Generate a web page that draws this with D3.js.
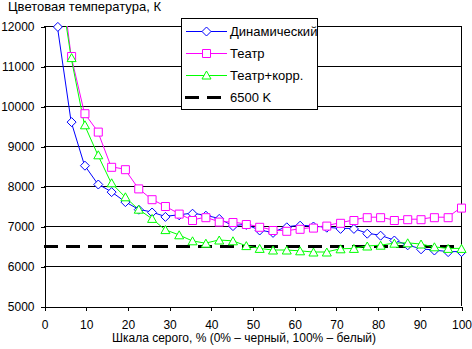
<!DOCTYPE html>
<html>
<head>
<meta charset="utf-8">
<script src="https://cdn.jsdelivr.net/npm/d3@7"></script>
<style>
  body { margin: 0; background: #fff; }
  svg { display: block; font-family: "Liberation Sans", Arial, sans-serif; }
</style>
</head>
<body>
<svg width="472" height="349"></svg>
<script>
// grey level, % (32 steps, 0..31)
const greyLevels = [3.2, 6.5, 9.7, 12.9, 16.1, 19.4, 22.6, 25.8, 29.0, 32.3, 35.5, 38.7, 41.9, 45.2, 48.4,
    51.6, 54.8, 58.1, 61.3, 64.5, 67.7, 71.0, 74.2, 77.4, 80.6, 83.9, 87.1, 90.3, 93.5, 96.8, 100];

const dynamicTemp = [11990, 9610, 8520, 8050, 7860, 7610, 7420, 7350, 7240, 7280, 7320, 7270, 7190, 7010, 7040,
    6900, 6840, 6980, 7020, 7000, 6970, 6940, 6940, 6820, 6770, 6650, 6530, 6430, 6400, 6360, 6360];

const theatreTemp = [14000, 11250, 9820, 9360, 8480, 8420, 7940, 7670, 7500, 7310, 7150, 7220, 7110, 7100, 7050,
    6980, 6900, 6880, 6930, 6960, 7010, 7080, 7150, 7220, 7220, 7150, 7170, 7170, 7220, 7220, 7460];

const theatreCorrTemp = [13500, 11210, 9530, 8780, 8080, 7730, 7420, 7190, 6910, 6780, 6630, 6570, 6650, 6630, 6510,
    6440, 6400, 6400, 6380, 6350, 6350, 6430, 6440, 6500, 6520, 6570, 6580, 6550, 6480, 6440, 6440];

const reference = [0, 100];
const referenceTemp = 6500;

const xTicks = [0, 10, 20, 30, 40, 50, 60, 70, 80, 90, 100];
const yTicks = [5000, 6000, 7000, 8000, 9000, 10000, 11000, 12000];

const seriesNames = ["Динамический", "Театр", "Театр+корр.", "6500 K"];

const svg = d3.select("svg");
const plotLeft = 44, plotRight = 461, plotTop = 26, plotBottom = 306;

const x = d3.scaleLinear().domain([0, 100]).range([plotLeft, plotRight]);
const y = d3.scaleLinear().domain([5000, 12000]).range([plotBottom, plotTop]);

svg.append("defs").append("clipPath").attr("id", "plot")
    .append("rect").attr("x", plotLeft).attr("y", plotTop)
    .attr("width", plotRight - plotLeft + 1).attr("height", plotBottom - plotTop + 1);

// gridlines
svg.append("g")
    .selectAll("line")
    .data(yTicks.slice(1))
    .join("line")
    .attr("x1", plotLeft).attr("x2", plotRight + 1)
    .attr("y1", d => y(d) + 0.5).attr("y2", d => y(d) + 0.5)
    .attr("stroke", "#000")
    .attr("shape-rendering", "crispEdges");

// right border
svg.append("line")
    .attr("x1", plotRight + 0.5).attr("x2", plotRight + 0.5)
    .attr("y1", plotTop).attr("y2", plotBottom)
    .attr("stroke", "#000")
    .attr("shape-rendering", "crispEdges");

// axes
const yAxis = svg.append("g")
    .attr("transform", `translate(${plotLeft + 0.5},0.5)`)
    .call(d3.axisLeft(y).tickValues(yTicks).tickSize(4).tickPadding(6).tickSizeOuter(0).tickFormat(d3.format("d")));
const xAxis = svg.append("g")
    .attr("transform", `translate(0.5,${plotBottom + 0.5})`)
    .call(d3.axisBottom(x).tickValues(xTicks).tickSize(4).tickPadding(10).tickSizeOuter(0));

[xAxis, yAxis].forEach(ax => {
    ax.select(".domain").attr("stroke", "#000").attr("shape-rendering", "crispEdges");
    ax.selectAll(".tick line").attr("stroke", "#000").attr("shape-rendering", "crispEdges");
    ax.selectAll("text").attr("font-size", 12).attr("font-family", "Liberation Sans, Arial, sans-serif").attr("fill", "#000");
});

// reference line 6500 K
svg.append("line")
    .attr("x1", x(reference[0])).attr("x2", x(reference[1]))
    .attr("y1", y(referenceTemp) + 0.5).attr("y2", y(referenceTemp) + 0.5)
    .attr("stroke", "#000").attr("stroke-width", 3)
    .attr("stroke-dasharray", "14,8")
    .attr("shape-rendering", "crispEdges");

const series = [
    {values: dynamicTemp, color: "#0000ff", marker: "diamond"},
    {values: theatreTemp, color: "#ff00ff", marker: "square"},
    {values: theatreCorrTemp, color: "#00ff00", marker: "triangle"}
];

function markerPath(type) {
    if (type === "diamond") return "M0,-4.5L4.5,0L0,4.5L-4.5,0Z";
    if (type === "square") return "M-4,-4H4V4H-4Z";
    return "M0,-4.5L4.5,3.5H-4.5Z";
}

const line = d3.line()
    .x((d, i) => x(greyLevels[i]))
    .y(d => y(d));

series.forEach(s => {
    svg.append("path")
        .attr("clip-path", "url(#plot)")
        .attr("d", line(s.values))
        .attr("fill", "none")
        .attr("stroke", s.color)
        .attr("stroke-width", 1);
});

series.forEach(s => {
    svg.append("g")
        .selectAll("path")
        .data(s.values.map((v, i) => [greyLevels[i], v]).filter(d => d[1] <= 12000))
        .join("path")
        .attr("transform", d => `translate(${x(d[0]) + 0.5},${y(d[1]) + 0.5})`)
        .attr("d", markerPath(s.marker))
        .attr("fill", "#fff")
        .attr("stroke", s.color)
        .attr("stroke-width", 1);
});

// legend
const legend = svg.append("g");
legend.append("rect")
    .attr("x", 181.5).attr("y", 18.5).attr("width", 136).attr("height", 91)
    .attr("fill", "#fff").attr("stroke", "#000")
    .attr("shape-rendering", "crispEdges");

const rowY = [31, 53, 75, 97];
series.forEach((s, i) => {
    const g = legend.append("g").attr("transform", `translate(0,${rowY[i] + 0.5})`);
    g.append("line").attr("x1", 186).attr("x2", 227).attr("stroke", s.color);
    g.append("path").attr("transform", "translate(206.5,0)")
        .attr("d", markerPath(s.marker)).attr("fill", "#fff").attr("stroke", s.color);
    g.append("text").attr("x", 230).attr("dy", "0.35em").attr("font-size", 13).text(seriesNames[i]);
});
{
    const g = legend.append("g").attr("transform", `translate(0,${rowY[3] + 0.5})`);
    g.append("line").attr("x1", 185).attr("x2", 221)
        .attr("stroke", "#000").attr("stroke-width", 3).attr("stroke-dasharray", "14,8")
        .attr("shape-rendering", "crispEdges");
    g.append("text").attr("x", 230).attr("dy", "0.35em").attr("font-size", 13).text(seriesNames[3]);
}

// titles
svg.append("text").attr("x", 8).attr("y", 11).attr("font-size", 13).text("Цветовая температура, К");
svg.append("text").attr("x", 112).attr("y", 342).attr("font-size", 12)
    .text("Шкала серого, % (0% – черный, 100% – белый)");
</script>
</body>
</html>
